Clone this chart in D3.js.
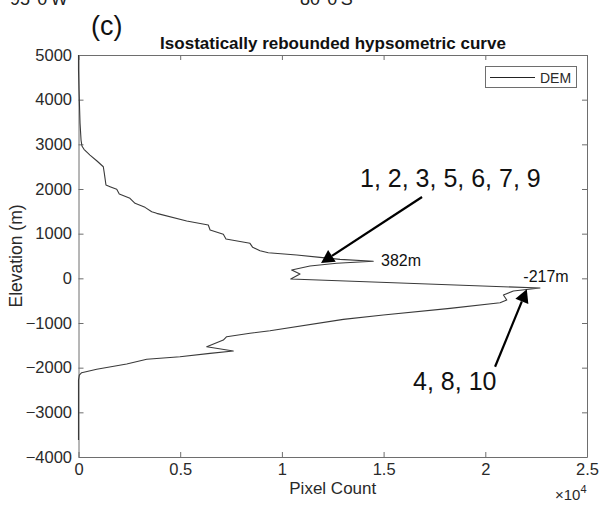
<!DOCTYPE html>
<html>
<head>
<meta charset="utf-8">
<script src="https://cdn.jsdelivr.net/npm/d3@7"></script>
<style>
  body { margin: 0; background: #fff; }
  svg { display: block; font-family: "Liberation Sans", Arial, sans-serif; }
</style>
</head>
<body>
<div id="chart"></div>
<script>
// hypsometric curve (top to bottom)
var elevation = [5000, 4663, 4215, 3477, 3096, 2962, 2888, 2760, 2633, 2498,
  2351, 2089, 2051, 1992, 1887, 1791, 1679, 1589, 1491, 1455,
  1283, 1193, 1081, 985, 880, 784, 694, 618, 573, 522,
  470, 425, 382, 336, 275, 186, 96, -16, -217, -284,
  -374, -486, -546, -672, -822, -918, -1173, -1231, -1307, -1381,
  -1531, -1628, -1679, -1755, -1813, -1919, -2037, -2113, -2165, -2277, -3620];
var pixelCount = [0, 0, 25, 75, 125, 170, 270, 565, 895, 1220,
  1270, 1350, 1550, 1880, 2005, 2530, 2780, 3270, 3600, 3845,
  5320, 6380, 6470, 7120, 7250, 8430, 8565, 8925, 9330, 10730,
  11875, 12860, 14495, 12695, 11380, 10480, 10890, 10435, 22690, 21380,
  20890, 21055, 20725, 18265, 14985, 13020, 9415, 8430, 7285, 7120,
  6305, 7610, 6465, 4990, 3355, 2370, 895, 155, 40, 0, 0];

var xTicks = [0, 5000, 10000, 15000, 20000, 25000];
var yTicks = [-4000, -3000, -2000, -1000, 0, 1000, 2000, 3000, 4000, 5000];

// peak labels and arrows (data units)
var peakLabels = [
  { text: "382m", x: 14875, y: 282 },
  { text: "-217m", x: 21870, y: -76 }
];
var arrows = [
  { x1: 16890, y1: 1820, x2: 11925, y2: 343 },
  { x1: 20480, y1: -1979, x2: 22040, y2: -246 }
];
var groupLabels = [
  { text: "1, 2, 3, 5, 6, 7, 9", x: 13840, y: 2050 },
  { text: "4, 8, 10", x: 16450, y: -2500 }
];

var W = 604, H = 509;
var margin = { top: 55, right: 17, bottom: 52, left: 78.5 };

var svg = d3.select("#chart").append("svg")
  .attr("width", W).attr("height", H);

var x = d3.scaleLinear().domain([0, 25000]).range([margin.left, W - margin.right]);
var y = d3.scaleLinear().domain([-4000, 5000]).range([H - margin.bottom, margin.top]);

var axisColor = "#6e6e6e", textColor = "#2a2a2a";

// axes (MATLAB style box with inward ticks)
var gx = svg.append("g").attr("transform", "translate(0," + y(-4000) + ")")
  .call(d3.axisBottom(x).tickValues(xTicks).tickSizeInner(-5).tickSizeOuter(0).tickPadding(6)
    .tickFormat(d => d3.format("~g")(d / 1e4)));
var gxTop = svg.append("g").attr("transform", "translate(0," + y(5000) + ")")
  .call(d3.axisTop(x).tickValues(xTicks).tickSizeInner(-5).tickSizeOuter(0).tickFormat(""));
var gy = svg.append("g").attr("transform", "translate(" + x(0) + ",0)")
  .call(d3.axisLeft(y).tickValues(yTicks).tickSizeInner(-5).tickSizeOuter(0).tickPadding(6.5)
    .tickFormat(d3.format("d")));
var gyRight = svg.append("g").attr("transform", "translate(" + x(25000) + ",0)")
  .call(d3.axisRight(y).tickValues(yTicks).tickSizeInner(-5).tickSizeOuter(0).tickFormat(""));

[gx, gxTop, gy, gyRight].forEach(function (g) {
  g.selectAll("path, line").attr("stroke", axisColor).attr("stroke-width", 1);
  g.selectAll("text").attr("fill", textColor).attr("font-size", 16.5)
    .attr("font-family", "'Liberation Sans', Arial, sans-serif");
});

// axis labels
svg.append("text")
  .attr("x", (x(0) + x(25000)) / 2).attr("y", 494)
  .attr("text-anchor", "middle").attr("font-size", 17).attr("fill", textColor)
  .text("Pixel Count");

svg.append("text")
  .attr("transform", "translate(22," + (y(-4000) + y(5000)) / 2 + ") rotate(-90)")
  .attr("text-anchor", "middle").attr("font-size", 17.5).attr("fill", textColor)
  .text("Elevation (m)");

var expo = svg.append("text").attr("x", 555).attr("y", 500)
  .attr("font-size", 15).attr("fill", textColor);
expo.append("tspan").text("\u00d710");
expo.append("tspan").attr("dy", -7).attr("font-size", 11).text("4");

// title and panel letter
svg.append("text")
  .attr("x", 333).attr("y", 49)
  .attr("text-anchor", "middle").attr("font-size", 17).attr("font-weight", "bold")
  .attr("fill", "#111")
  .text("Isostatically rebounded hypsometric curve");

svg.append("text").attr("x", 91).attr("y", 35)
  .attr("font-size", 27).attr("fill", "#111").text("(c)");

// coordinate labels of the map panel above, cut by the top edge as in the figure
svg.append("text").attr("x", 10).attr("y", 5)
  .attr("font-size", 18).attr("fill", "#222").text("95\u00b00'W");
svg.append("text").attr("x", 300).attr("y", 5)
  .attr("font-size", 18).attr("fill", "#222").text("80\u00b00'S");

// the curve
var line = d3.line()
  .x((d, i) => x(pixelCount[i]))
  .y(d => y(d));

svg.append("path")
  .datum(elevation)
  .attr("d", line)
  .attr("fill", "none")
  .attr("stroke", "#3a3a3a")
  .attr("stroke-width", 1.1)
  .attr("stroke-linejoin", "round");

// legend
var lg = svg.append("g");
lg.append("rect").attr("x", 485.5).attr("y", 66.5).attr("width", 91).attr("height", 21)
  .attr("fill", "#fff").attr("stroke", axisColor).attr("stroke-width", 1);
lg.append("line").attr("x1", 490).attr("x2", 535).attr("y1", 77.5).attr("y2", 77.5)
  .attr("stroke", "#222").attr("stroke-width", 1.1);
lg.append("text").attr("x", 540).attr("y", 82.5).attr("font-size", 14)
  .attr("fill", textColor).text("DEM");

// peak labels
svg.selectAll(".peak").data(peakLabels).enter().append("text")
  .attr("class", "peak")
  .attr("x", d => x(d.x)).attr("y", d => y(d.y))
  .attr("font-size", 16).attr("fill", "#111")
  .text(d => d.text);

// arrows
arrows.forEach(function (a) {
  var x1 = x(a.x1), y1 = y(a.y1), x2 = x(a.x2), y2 = y(a.y2);
  var dx = x2 - x1, dy = y2 - y1, len = Math.sqrt(dx * dx + dy * dy);
  var ux = dx / len, uy = dy / len;
  var hl = 13, hw = 7;
  var bx = x2 - ux * hl, by = y2 - uy * hl;
  svg.append("line")
    .attr("x1", x1).attr("y1", y1).attr("x2", bx).attr("y2", by)
    .attr("stroke", "#000").attr("stroke-width", 2.2);
  svg.append("path")
    .attr("d", "M" + x2 + "," + y2 +
      "L" + (bx - uy * hw) + "," + (by + ux * hw) +
      "L" + (bx + uy * hw) + "," + (by - ux * hw) + "Z")
    .attr("fill", "#000");
});

svg.selectAll(".grp").data(groupLabels).enter().append("text")
  .attr("class", "grp")
  .attr("x", d => x(d.x)).attr("y", d => y(d.y))
  .attr("font-size", 25).attr("fill", "#111")
  .text(d => d.text);
</script>
</body>
</html>
